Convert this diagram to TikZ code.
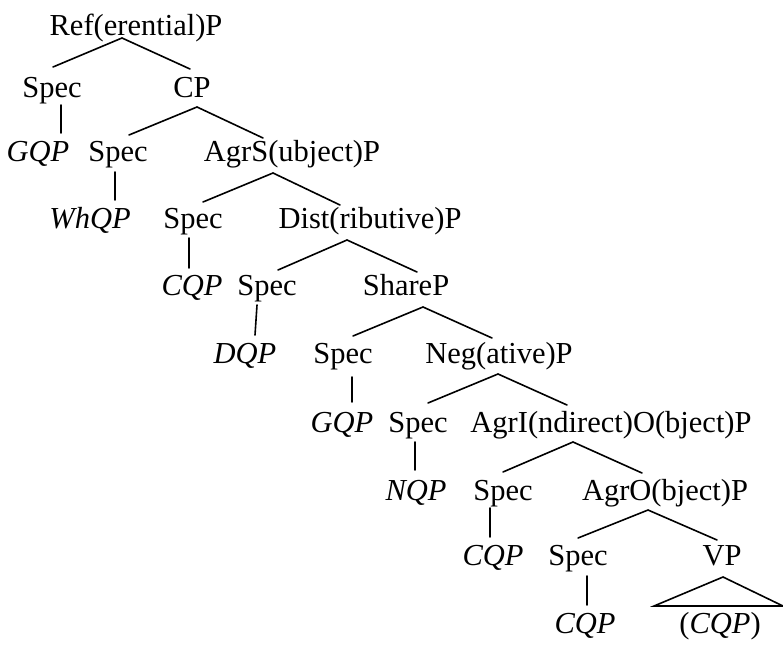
\documentclass[tikz,border=0pt]{standalone}
\usepackage{fontspec}
\setmainfont{Liberation Serif}
\begin{document}
\begin{tikzpicture}[x=1pt,y=-1pt,
  lbl/.style={anchor=base, inner sep=0pt, font=\fontsize{30.5}{36}\selectfont},
  qp/.style={lbl, font=\fontsize{30.5}{36}\selectfont\itshape},
  br/.style={line width=1.6pt, line cap=round}]
\useasboundingbox (0,0) rectangle (783,645);

% labels, placed by baseline
\node[lbl] (n0) at (136,35) {Ref(erential)P};

\node[lbl] (s1) at (52,97) {Spec};
\node[lbl] (cp) at (192,97) {CP};

\node[qp]  (q1) at (38,161) {GQP};
\node[lbl] (s2) at (118,161) {Spec};
\node[lbl] (agrs) at (292,161) {AgrS(ubject)P};

\node[qp]  (q2) at (90,228) {WhQP};
\node[lbl] (s3) at (193,228) {Spec};
\node[lbl] (dist) at (370,228) {Dist(ributive)P};

\node[qp]  (q3) at (192,295) {CQP};
\node[lbl] (s4) at (267,295) {Spec};
\node[lbl] (share) at (406,295) {ShareP};

\node[qp]  (q4) at (245,363) {DQP};
\node[lbl] (s5) at (343,363) {Spec};
\node[lbl] (neg) at (499,363) {Neg(ative)P};

\node[qp]  (q5) at (342,432) {GQP};
\node[lbl] (s6) at (418,432) {Spec};
\node[lbl] (agrio) at (611,432) {AgrI(ndirect)O(bject)P};

\node[qp]  (q6) at (416,500) {NQP};
\node[lbl] (s7) at (503,500) {Spec};
\node[lbl] (agro) at (665,500) {AgrO(bject)P};

\node[qp]  (q7) at (493,565) {CQP};
\node[lbl] (s8) at (578,565) {Spec};
\node[lbl] (vp) at (722,565) {VP};

\node[qp]  (q8) at (585,633) {CQP};
\node[lbl] (vpc) at (720,633) {(\textit{CQP})};

% branches
\draw[br] ([shift={(1,-30)}]s1.base) -- ([shift={(-14,3)}]n0.base) -- ([shift={(-2,-28)}]cp.base);
\draw[br] ([shift={(11,-26)}]s2.base) -- ([shift={(5,10)}]cp.base) -- ([shift={(-29,-23)}]agrs.base);
\draw[br] ([shift={(10,-26)}]s3.base) -- ([shift={(-19,12)}]agrs.base) -- ([shift={(-30,-23)}]dist.base);
\draw[br] ([shift={(11,-25)}]s4.base) -- ([shift={(-23,12)}]dist.base) -- ([shift={(11,-23)}]share.base);
\draw[br] ([shift={(10,-27)}]s5.base) -- ([shift={(17,12)}]share.base) -- ([shift={(-7,-25)}]neg.base);
\draw[br] ([shift={(10,-29)}]s6.base) -- ([shift={(-1,11)}]neg.base) -- ([shift={(-44,-27)}]agrio.base);
\draw[br] ([shift={(0,-28)}]s7.base) -- ([shift={(-38,10)}]agrio.base) -- ([shift={(-23,-27)}]agro.base);
\draw[br] ([shift={(0,-27)}]s8.base) -- ([shift={(-17,10)}]agro.base) -- ([shift={(-5,-25)}]vp.base);

% specifier stems
\draw[br] ([shift={(9,8)}]s1.base) -- ([shift={(23,-28)}]q1.base);
\draw[br] ([shift={(-3,11)}]s2.base) -- ([shift={(25,-28)}]q2.base);
\draw[br] ([shift={(-4,10)}]s3.base) -- ([shift={(-3,-27)}]q3.base);
\draw[br] ([shift={(-10,10)}]s4.base) -- ([shift={(10,-28)}]q4.base);
\draw[br] ([shift={(9,14)}]s5.base) -- ([shift={(10,-30)}]q5.base);
\draw[br] ([shift={(-3,10)}]s6.base) -- ([shift={(-1,-30)}]q6.base);
\draw[br] ([shift={(-13,8)}]s7.base) -- ([shift={(-3,-28)}]q7.base);
\draw[br] ([shift={(9,11)}]s8.base) -- ([shift={(2,-28)}]q8.base);

% VP triangle over (CQP)
\draw[br, line join=miter] ([shift={(-66,-27)}]vpc.base) -- ([shift={(1,12)}]vp.base) -- ([shift={(63,-27)}]vpc.base) -- cycle;
\end{tikzpicture}
\end{document}
